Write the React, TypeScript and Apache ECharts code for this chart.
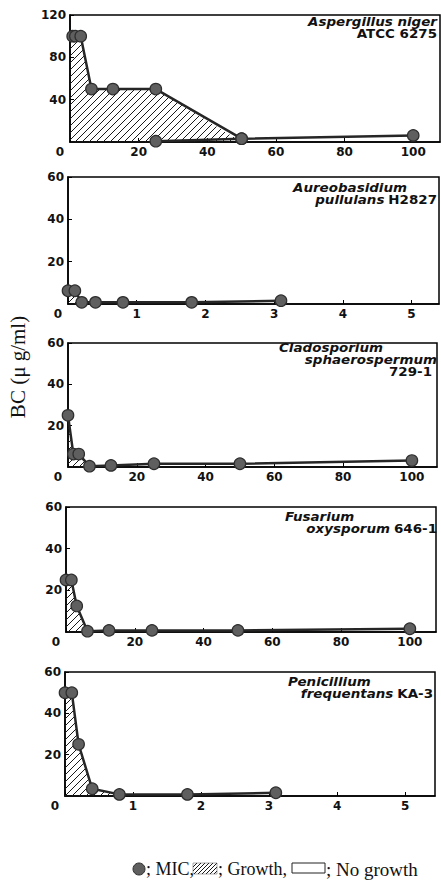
import React, { useEffect, useRef } from 'react';
import * as echarts from 'echarts';

// ---- data (x: concentration, y: BC in µg/ml) ----
const xTicksWide = [0, 20, 40, 60, 80, 100];
const xTicksNarrow = [0, 1, 2, 3, 4, 5];

const aspergillusMIC = [[0.78, 100], [1.56, 100], [3.125, 100], [6.25, 50], [12.5, 50], [25, 50], [50, 3.125], [100, 6.25]];
const aspergillusMIC2 = [[25, 0.78], [50, 3.125]];
const aspergillusGrowth = [[0, 100], [3.125, 100], [6.25, 50], [25, 50], [50, 0]];

const aureobasidiumMIC = [[0, 6.25], [0.1, 6.25], [0.2, 0.78], [0.4, 0.78], [0.8, 0.78], [1.8, 0.78], [3.1, 1.56]];
const aureobasidiumGrowth = [[0, 6.25], [0.1, 6.25], [0.2, 0.78]];

const cladosporiumMIC = [[0, 25], [1.56, 6.25], [3.125, 6.25], [6.25, 0.39], [12.5, 0.78], [25, 1.56], [50, 1.56], [100, 3.125]];
const cladosporiumGrowth = [[0, 25], [1.56, 6.25], [3.125, 6.25], [6.25, 0.39]];

const fusariumMIC = [[0, 25], [1.56, 25], [3.125, 12.5], [6.25, 0.39], [12.5, 0.78], [25, 0.78], [50, 0.78], [100, 1.56]];
const fusariumGrowth = [[0, 25], [1.56, 25], [3.125, 12.5], [6.25, 0.39]];

const penicilliumMIC = [[0, 50], [0.1, 50], [0.2, 25], [0.4, 3.5], [0.8, 0.78], [1.8, 0.78], [3.1, 1.56]];
const penicilliumGrowth = [[0, 50], [0.1, 50], [0.2, 25], [0.4, 3.5], [0.8, 0.78]];

const yLabel = 'BC (μ g/ml)';

// ---- layout ----
const panels = [
  { left: 70, top: 15, width: 370, height: 127, xMax: 107.8, xInt: 20, yMax: 120, yInt: 40, mic: [aspergillusMIC, aspergillusMIC2], growth: aspergillusGrowth, ticks: xTicksWide },
  { left: 68, top: 177, width: 371, height: 127, xMax: 5.4, xInt: 1, yMax: 60, yInt: 20, mic: [aureobasidiumMIC], growth: aureobasidiumGrowth, ticks: xTicksNarrow },
  { left: 68, top: 343, width: 369, height: 124, xMax: 107.3, xInt: 20, yMax: 60, yInt: 20, mic: [cladosporiumMIC], growth: cladosporiumGrowth, ticks: xTicksWide },
  { left: 66, top: 507, width: 370, height: 125, xMax: 107.6, xInt: 20, yMax: 60, yInt: 20, mic: [fusariumMIC], growth: fusariumGrowth, ticks: xTicksWide },
  { left: 65, top: 672, width: 370, height: 124, xMax: 5.44, xInt: 1, yMax: 60, yInt: 20, mic: [penicilliumMIC], growth: penicilliumGrowth, ticks: xTicksNarrow },
];

function makeHatch(size: number, lw: number) {
  const c = document.createElement('canvas');
  c.width = size;
  c.height = size;
  const ctx = c.getContext('2d')!;
  ctx.strokeStyle = '#1a1a1a';
  ctx.lineWidth = lw;
  ctx.beginPath();
  ctx.moveTo(-1, size + 1);
  ctx.lineTo(size + 1, -1);
  ctx.moveTo(-1, 1);
  ctx.lineTo(1, -1);
  ctx.moveTo(size - 1, size + 1);
  ctx.lineTo(size + 1, size - 1);
  ctx.stroke();
  return c;
}

const tickFont = { fontFamily: 'DejaVu Sans', fontWeight: 'bold' as const, fontSize: 12, color: '#111' };
const titleFontI = 'italic bold 11.5px "DejaVu Sans"';
const titleFontN = 'bold 11.5px "DejaVu Sans"';
const TITLE_SX = 1.17;

export default function App() {
  const ref = useRef<HTMLDivElement>(null);
  useEffect(() => {
    if (!ref.current) return;
    const chart = echarts.init(ref.current, undefined, { renderer: 'svg' });
    const hatch = { image: makeHatch(7, 1), repeat: 'repeat' };
    const hatchLegend = { image: makeHatch(4, 1), repeat: 'repeat' };

    const grid: any[] = [];
    const xAxis: any[] = [];
    const yAxis: any[] = [];
    const series: any[] = [];
    panels.forEach((p, i) => {
      grid.push({ left: p.left, top: p.top, width: p.width, height: p.height, show: true, borderColor: '#000', borderWidth: 1.5, backgroundColor: 'transparent' });
      xAxis.push({
        type: 'value', gridIndex: i, min: 0, max: p.xMax, interval: p.xInt,
        axisLine: { show: true, onZero: false, lineStyle: { color: '#000', width: 1.5 } },
        axisTick: { show: true, inside: true, length: 4, lineStyle: { color: '#000', width: 1 } },
        splitLine: { show: false },
        axisLabel: {
          ...tickFont, margin: 4, showMaxLabel: false,
          formatter: (v: number) => (p.ticks.includes(v) ? (v === 0 ? '{z|0}' : String(v)) : ''),
          rich: { z: { ...tickFont, padding: [0, 20, 0, 0] } },
        },
      });
      yAxis.push({
        type: 'value', gridIndex: i, min: 0, max: p.yMax, interval: p.yInt,
        axisLine: { show: true, onZero: false, lineStyle: { color: '#000', width: 1.5 } },
        axisTick: { show: true, inside: true, length: 4, lineStyle: { color: '#000', width: 1 } },
        splitLine: { show: false },
        axisLabel: { ...tickFont, margin: 4, showMinLabel: false },
      });
      series.push({
        type: 'line', xAxisIndex: i, yAxisIndex: i, data: p.growth, symbol: 'none', silent: true, z: 1,
        lineStyle: { width: 0, opacity: 0 }, areaStyle: { color: hatch, opacity: 1 },
      });
      p.mic.forEach((d) => {
        series.push({
          type: 'line', xAxisIndex: i, yAxisIndex: i, data: d, symbol: 'circle', symbolSize: 11.5, z: 3,
          lineStyle: { color: '#262626', width: 2.5 },
          itemStyle: { color: '#5f5f5f', borderColor: '#2e2e2e', borderWidth: 1.2 },
        });
      });
    });

    const t = (text: string, x: number, y: number, italic: boolean, align: string) => ({
      type: 'text', x, y, scaleX: TITLE_SX,
      style: { text, font: italic ? titleFontI : titleFontN, fill: '#111', align, verticalAlign: 'middle' },
    });
    const rich = (text: string, x: number, y: number) => ({
      type: 'text', x, y, scaleX: TITLE_SX,
      style: {
        text, align: 'right', verticalAlign: 'middle', fill: '#111',
        rich: {
          i: { font: titleFontI, fill: '#111' },
          n: { font: titleFontN, fill: '#111' },
        },
      },
    });

    const serif = '18px "Liberation Serif"';
    const graphic: any[] = [
      t('Aspergillus niger', 437, 22, true, 'right'),
      t('ATCC 6275', 437, 34, false, 'right'),
      t('Aureobasidium', 293, 188, true, 'left'),
      rich('{i|pullulans} {n|H2827}', 437, 200),
      t('Cladosporium', 279, 348, true, 'left'),
      t('sphaerospermum', 437, 360, true, 'right'),
      t('729-1', 432, 372, false, 'right'),
      t('Fusarium', 285, 517, true, 'left'),
      rich('{i|oxysporum} {n|646-1}', 437, 529),
      t('Penicillium', 288, 682, true, 'left'),
      rich('{i|frequentans} {n|KA-3}', 433, 694),
      { type: 'text', x: 18, y: 367, rotation: Math.PI / 2, style: { text: yLabel, font: '21px "Liberation Serif"', fill: '#111', align: 'center', verticalAlign: 'middle' } },
      // legend
      { type: 'circle', shape: { cx: 139, cy: 869, r: 6 }, style: { fill: '#5f5f5f', stroke: '#2e2e2e', lineWidth: 1 } },
      { type: 'text', x: 146, y: 869, style: { text: '; MIC,', font: serif, fill: '#111', verticalAlign: 'middle' } },
      { type: 'rect', shape: { x: 193, y: 863, width: 24, height: 11 }, style: { fill: hatchLegend, stroke: '#555', lineWidth: 0.5 } },
      { type: 'text', x: 218, y: 869, style: { text: '; Growth,', font: serif, fill: '#111', verticalAlign: 'middle' } },
      { type: 'rect', shape: { x: 292, y: 863, width: 33, height: 10 }, style: { fill: '#fff', stroke: '#222', lineWidth: 1 } },
      { type: 'text', x: 326, y: 869, style: { text: '; No growth', font: '19px "Liberation Serif"', fill: '#111', verticalAlign: 'middle' } },
    ];

    chart.setOption({ animation: false, backgroundColor: '#fff', grid, xAxis, yAxis, series, graphic });
    return () => chart.dispose();
  }, []);
  return <div ref={ref} style={{ position: 'fixed', left: 0, top: 0, width: 441, height: 884 }} />;
}
